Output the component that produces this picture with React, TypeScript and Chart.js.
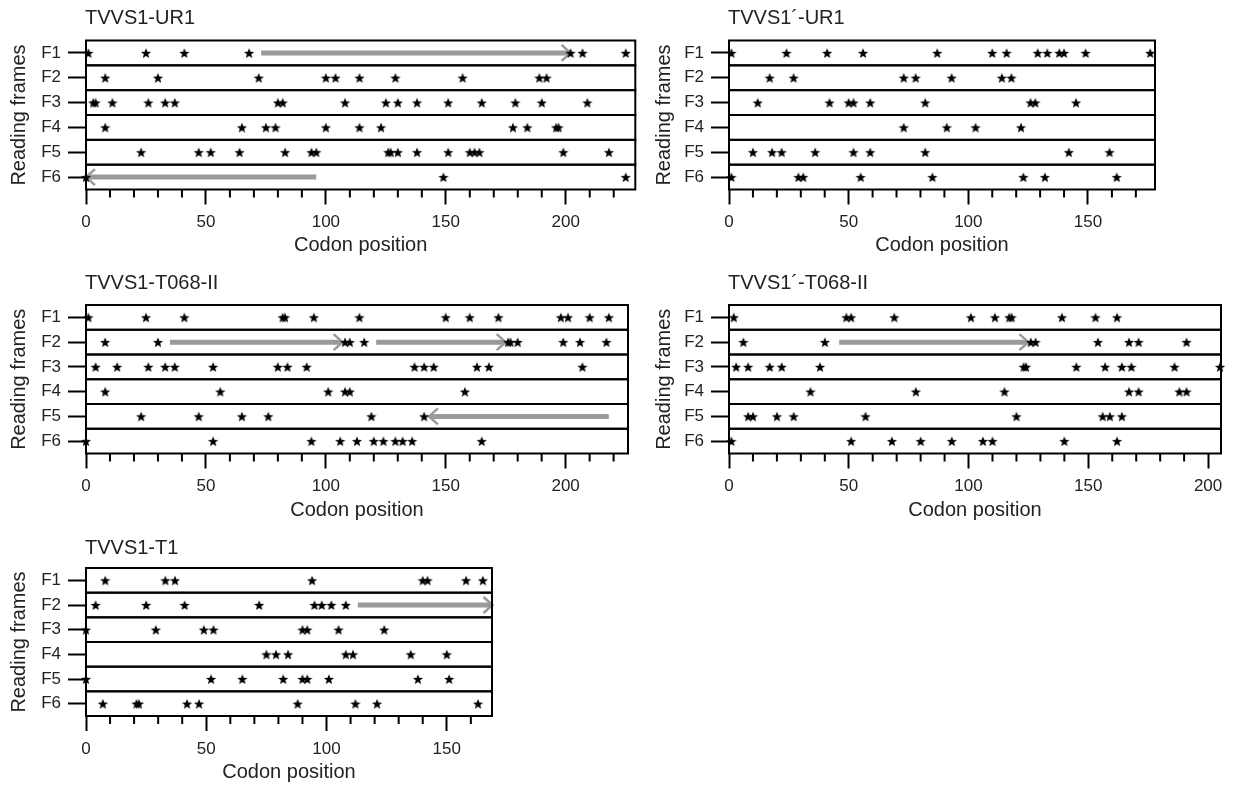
import React, { useEffect, useRef } from 'react';
import { Chart, registerables } from 'chart.js';

Chart.register(...registerables);

const FONT = "'Liberation Sans', Arial, sans-serif";
const TEXT_COLOR = '#222222';
const ARROW_COLOR = '#9a9a9a';

const frameLabels = ['F1', 'F2', 'F3', 'F4', 'F5', 'F6'];
const xTitle = 'Codon position';
const yTitle = 'Reading frames';

// ---- TVVS1-UR1 ----
const ur1Title = 'TVVS1-UR1';
const ur1F1 = [1, 25, 41, 68, 202, 207, 225];
const ur1F2 = [8, 30, 72, 100, 104, 114, 129, 157, 189, 192];
const ur1F3 = [3, 4, 11, 26, 33, 37, 80, 82, 108, 125, 130, 138, 151, 165, 179, 190, 209];
const ur1F4 = [8, 65, 75, 79, 100, 114, 123, 178, 184, 196, 197];
const ur1F5 = [23, 47, 52, 64, 83, 94, 96, 126, 127, 130, 138, 151, 160, 162, 164, 199, 218];
const ur1F6 = [0, 149, 225];
const ur1Arrows = [[1, 73, 202], [6, 96, 0]]; // [frame, from, to]
const ur1Max = 229;

// ---- TVVS1´-UR1 ----
const ur1pTitle = 'TVVS1´-UR1';
const ur1pF1 = [1, 24, 41, 56, 87, 110, 116, 129, 133, 138, 140, 149, 176];
const ur1pF2 = [17, 27, 73, 78, 93, 114, 118];
const ur1pF3 = [12, 42, 50, 52, 59, 82, 126, 128, 145];
const ur1pF4 = [73, 91, 103, 122];
const ur1pF5 = [10, 18, 22, 36, 52, 59, 82, 142, 159];
const ur1pF6 = [1, 29, 31, 55, 85, 123, 132, 162];
const ur1pArrows: number[][] = [];
const ur1pMax = 178;

// ---- TVVS1-T068-II ----
const t068Title = 'TVVS1-T068-II';
const t068F1 = [1, 25, 41, 82, 83, 95, 114, 150, 160, 172, 198, 201, 210, 218];
const t068F2 = [8, 30, 108, 110, 116, 176, 177, 180, 199, 206, 217];
const t068F3 = [4, 13, 26, 33, 37, 53, 80, 84, 92, 137, 141, 145, 163, 168, 207];
const t068F4 = [8, 56, 101, 108, 110, 158];
const t068F5 = [23, 47, 65, 76, 119, 141];
const t068F6 = [0, 53, 94, 106, 113, 120, 124, 129, 132, 136, 165];
const t068Arrows = [[2, 35, 107], [2, 121, 175], [5, 218, 143]];
const t068Max = 226;

// ---- TVVS1´-T068-II ----
const t068pTitle = 'TVVS1´-T068-II';
const t068pF1 = [2, 49, 51, 69, 101, 111, 117, 118, 139, 153, 162];
const t068pF2 = [6, 40, 126, 128, 154, 167, 171, 191];
const t068pF3 = [3, 8, 17, 22, 38, 123, 124, 145, 157, 164, 168, 186, 205];
const t068pF4 = [34, 78, 115, 167, 171, 188, 191];
const t068pF5 = [8, 10, 20, 27, 57, 120, 156, 159, 164];
const t068pF6 = [1, 51, 68, 80, 93, 106, 110, 140, 162];
const t068pArrows = [[2, 46, 125]];
const t068pMax = 205.4;

// ---- TVVS1-T1 ----
const t1Title = 'TVVS1-T1';
const t1F1 = [8, 33, 37, 94, 140, 142, 158, 165];
const t1F2 = [4, 25, 41, 72, 95, 98, 102, 108];
const t1F3 = [0, 29, 49, 53, 90, 92, 105, 124];
const t1F4 = [75, 79, 84, 108, 111, 135, 150];
const t1F5 = [0, 52, 65, 82, 90, 92, 101, 138, 151];
const t1F6 = [7, 21, 22, 42, 47, 88, 112, 121, 163];
const t1Arrows = [[2, 113, 169]];
const t1Max = 168.8;

type PanelSpec = {
  title: string;
  rows: number[][];
  arrows: number[][];
  xMax: number;
  left: number; top: number; width: number; height: number;
  areaLeft: number; areaTop: number; areaRight: number; areaBottom: number;
  titlePad: number;
};

const panels: PanelSpec[] = [
  { title: ur1Title, rows: [ur1F1, ur1F2, ur1F3, ur1F4, ur1F5, ur1F6], arrows: ur1Arrows, xMax: ur1Max,
    left: 0, top: 0, width: 650, height: 265, areaLeft: 86, areaTop: 40.5, areaRight: 635.3, areaBottom: 189.5, titlePad: 8 },
  { title: ur1pTitle, rows: [ur1pF1, ur1pF2, ur1pF3, ur1pF4, ur1pF5, ur1pF6], arrows: ur1pArrows, xMax: ur1pMax,
    left: 645, top: 0, width: 589, height: 265, areaLeft: 84, areaTop: 40.5, areaRight: 510, areaBottom: 189.5, titlePad: 8 },
  { title: t068Title, rows: [t068F1, t068F2, t068F3, t068F4, t068F5, t068F6], arrows: t068Arrows, xMax: t068Max,
    left: 0, top: 265, width: 650, height: 265, areaLeft: 86, areaTop: 40, areaRight: 628, areaBottom: 188.5, titlePad: 8 },
  { title: t068pTitle, rows: [t068pF1, t068pF2, t068pF3, t068pF4, t068pF5, t068pF6], arrows: t068pArrows, xMax: t068pMax,
    left: 645, top: 265, width: 589, height: 265, areaLeft: 84, areaTop: 40, areaRight: 576, areaBottom: 188.5, titlePad: 8 },
  { title: t1Title, rows: [t1F1, t1F2, t1F3, t1F4, t1F5, t1F6], arrows: t1Arrows, xMax: t1Max,
    left: 0, top: 530, width: 650, height: 255, areaLeft: 86, areaTop: 38, areaRight: 492, areaBottom: 186, titlePad: 1 },
];

function makeStar(): HTMLCanvasElement {
  const c = document.createElement('canvas');
  c.width = 12;
  c.height = 12;
  const ctx = c.getContext('2d')!;
  ctx.fillStyle = '#000';
  ctx.beginPath();
  for (let i = 0; i < 10; i++) {
    const r = i % 2 === 0 ? 5.4 : 2.3;
    const a = -Math.PI / 2 + (i * Math.PI) / 5;
    ctx.lineTo(6 + r * Math.cos(a), 6.6 + r * Math.sin(a));
  }
  ctx.closePath();
  ctx.fill();
  return c;
}

function PanelChart({ spec }: { spec: PanelSpec }) {
  const ref = useRef<HTMLCanvasElement>(null);
  useEffect(() => {
    if (!ref.current) return;
    const star = makeStar();
    const yWidth = spec.areaLeft;
    const xHeight = spec.height - spec.areaBottom;

    const decor = {
      id: 'decor' + spec.title,
      beforeDatasetsDraw(chart: any) {
        const { ctx, chartArea: a, scales } = chart;
        const x = scales.x;
        const y = scales.y;
        ctx.save();
        // arrows
        for (const [f, s, e] of spec.arrows) {
          const py = y.getPixelForValue(f);
          const xs = x.getPixelForValue(s);
          const xe = x.getPixelForValue(e);
          const d = xe > xs ? 1 : -1;
          ctx.strokeStyle = ARROW_COLOR;
          ctx.lineWidth = 5;
          ctx.lineCap = 'butt';
          ctx.beginPath();
          ctx.moveTo(xs, py);
          ctx.lineTo(xe - d * 2, py);
          ctx.stroke();
          ctx.lineWidth = 2.5;
          ctx.lineJoin = 'miter';
          ctx.beginPath();
          ctx.moveTo(xe - d * 9, py - 8);
          ctx.lineTo(xe, py);
          ctx.lineTo(xe - d * 9, py + 8);
          ctx.stroke();
        }
        // row boxes
        ctx.strokeStyle = '#000';
        ctx.lineWidth = 2;
        for (let i = 1; i <= frameLabels.length; i++) {
          const t = y.getPixelForValue(i - 0.5);
          const b = y.getPixelForValue(i + 0.5);
          ctx.strokeRect(a.left, t, a.right - a.left, b - t);
        }
        // minor ticks
        ctx.beginPath();
        for (let v = 10; v <= x.max; v += 10) {
          if (v % 50 === 0) continue;
          const px = x.getPixelForValue(v);
          ctx.moveTo(px, a.bottom);
          ctx.lineTo(px, a.bottom + 8);
        }
        ctx.stroke();
        // panel title
        ctx.fillStyle = TEXT_COLOR;
        ctx.font = `20px ${FONT}`;
        ctx.textAlign = 'left';
        ctx.textBaseline = 'middle';
        ctx.fillText(spec.title, a.left - 1, 18);
        ctx.restore();
      },
    };

    const datasets = spec.rows.map((vals, i) => ({
      label: frameLabels[i],
      data: vals.map((v) => ({ x: v, y: i + 1 })),
      pointStyle: star as any,
      pointRadius: 5,
      pointHoverRadius: 5,
      clip: false as any,
    }));

    const chart = new Chart(ref.current, {
      type: 'scatter',
      data: { datasets },
      options: {
        animation: false,
        responsive: false,
        maintainAspectRatio: false,
        events: [],
        layout: { padding: { top: spec.areaTop, left: 0, bottom: 0, right: spec.width - spec.areaRight } },
        plugins: { legend: { display: false }, tooltip: { enabled: false }, title: { display: false } },
        scales: {
          x: {
            type: 'linear',
            min: 0,
            max: spec.xMax,
            afterFit: (s: any) => { s.height = xHeight; },
            ticks: {
              stepSize: 50,
              includeBounds: false,
              autoSkip: false,
              maxRotation: 0,
              padding: 8,
              color: TEXT_COLOR,
              font: { family: FONT, size: 17 },
            },
            grid: { drawOnChartArea: false, tickLength: 15, tickWidth: 2, tickColor: '#000' },
            border: { display: false },
            title: {
              display: true,
              text: xTitle,
              color: TEXT_COLOR,
              font: { family: FONT, size: 20 },
              padding: { top: 0, bottom: spec.titlePad },
            },
          },
          y: {
            type: 'linear',
            reverse: true,
            min: 0.5,
            max: frameLabels.length + 0.5,
            afterBuildTicks: (s: any) => { s.ticks = frameLabels.map((_, i) => ({ value: i + 1 })); },
            afterFit: (s: any) => { s.width = yWidth; },
            ticks: {
              callback: (v: any) => frameLabels[Number(v) - 1] ?? '',
              padding: 7,
              color: TEXT_COLOR,
              font: { family: FONT, size: 17 },
            },
            grid: { drawOnChartArea: false, tickLength: 18, tickWidth: 2, tickColor: '#000' },
            border: { display: false },
            title: {
              display: true,
              text: yTitle,
              color: TEXT_COLOR,
              font: { family: FONT, size: 20 },
              padding: { top: 7, bottom: 0 },
            },
          },
        },
      },
      plugins: [decor],
    });
    return () => chart.destroy();
  }, [spec]);

  return (
    <canvas
      ref={ref}
      width={spec.width}
      height={spec.height}
      style={{ position: 'absolute', left: spec.left, top: spec.top, width: spec.width, height: spec.height, display: 'block' }}
    />
  );
}

export default function App() {
  return (
    <div style={{ position: 'fixed', left: 0, top: 0, width: 1234, height: 785, background: '#fff', overflow: 'hidden' }}>
      {panels.map((p) => (
        <PanelChart key={p.title} spec={p} />
      ))}
    </div>
  );
}
